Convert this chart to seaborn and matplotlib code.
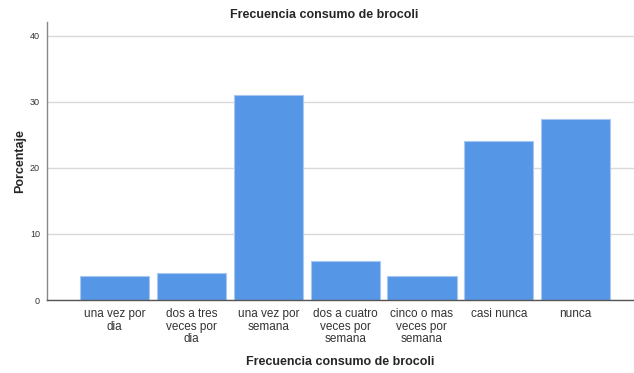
import matplotlib
matplotlib.use("Agg")
import matplotlib.pyplot as plt
import seaborn as sns
import pandas as pd

categories = ["una vez por\ndia", "dos a tres\nveces por\ndia", "una vez por\nsemana",
              "dos a cuatro\nveces por\nsemana", "cinco o mas\nveces por\nsemana",
              "casi nunca", "nunca"]
values = [3.7, 4.1, 31.1, 5.9, 3.7, 24.1, 27.4]
yticks = [0, 10, 20, 30, 40]

sns.set_theme(style="white")
plt.rcParams['font.family'] = ['Liberation Sans', 'DejaVu Sans']

df = pd.DataFrame({"cat": categories, "val": values})

fig = plt.figure(figsize=(6.34, 3.73), dpi=100)
ax = fig.add_axes([0.0741, 0.1957, 0.9259, 0.7453])
ax.set_axisbelow(True)
ax.yaxis.grid(True, color="#d9d9d9", linewidth=1.0)
sns.barplot(data=df, x="cat", y="val", color="#5596e6", saturation=1,
            width=0.9, edgecolor="#a9c8f0", linewidth=0.8, ax=ax)
ax.set_ylim(0, 42.1)
ax.set_xlim(-0.88, 6.76)
ax.set_yticks(yticks)
ax.set_yticklabels([str(t) for t in yticks], fontsize=6.5, color="#333333")
ax.set_xticks(range(len(categories)))
ax.set_xticklabels(categories, fontsize=8.5, linespacing=1.05, color="#333333", va="top")
ax.tick_params(axis="both", length=0)
ax.tick_params(axis="y", pad=5)
ax.tick_params(axis="x", pad=6)
for s in ["top", "right"]:
    ax.spines[s].set_visible(False)
ax.spines["left"].set_color("#888888")
ax.spines["bottom"].set_color("#555555")
ax.spines["left"].set_linewidth(1.0)
ax.spines["bottom"].set_linewidth(1.0)
ax.set_xlabel("Frecuencia consumo de brocoli", fontsize=9, fontweight="bold", labelpad=8)
ax.set_ylabel("Porcentaje", fontsize=9, fontweight="bold", labelpad=3)
ax.set_title("Frecuencia consumo de brocoli", fontsize=9, fontweight="bold", pad=3, x=0.472)
fig.savefig("out.png", dpi=100)
